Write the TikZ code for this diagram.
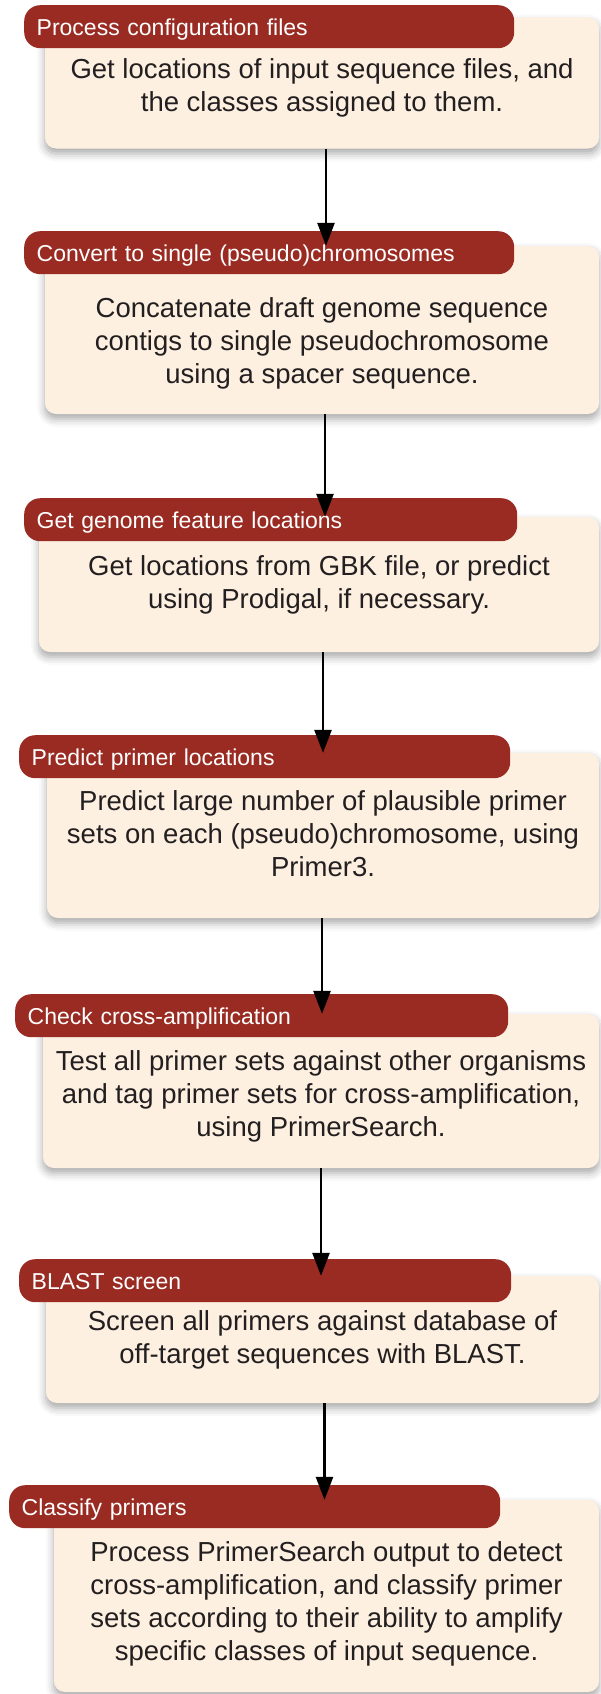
\documentclass[tikz,border=0pt]{standalone}
\usepackage{fontspec}
\setmainfont{Liberation Sans}
\usetikzlibrary{arrows.meta, shadows.blur}
\definecolor{stepred}{RGB}{153,43,34}
\definecolor{stepcream}{RGB}{253,240,225}
\definecolor{steptext}{RGB}{35,31,32}

\tikzset{
  stepbody/.style={rectangle, rounded corners=11pt, fill=stepcream, inner sep=0pt,
    blur shadow={shadow xshift=0pt, shadow yshift=-5pt, shadow blur radius=8pt, shadow opacity=35}},
  stepnote/.style={align=center, inner sep=0pt, text=steptext, font=\fontsize{27.5}{33}\selectfont},
  steptitle/.style={rectangle, rounded corners=16pt, fill=stepred, anchor=north west,
    inner xsep=12.5pt, inner ysep=0pt, minimum height=43pt, text height=18pt, text depth=0pt,
    text=white, align=left, font=\fontsize{23}{27}\selectfont},
  flow/.style={-{Triangle[length=23pt,width=17pt]}, line width=2.7pt, black},
}

\begin{document}
\begin{tikzpicture}[x=1pt, y=1pt]
  \useasboundingbox (0,0) rectangle (601,-1694);

  % step bodies
  \node[stepbody, minimum width=554pt, minimum height=131pt] (b1) at (322,-83) {};
  \node[stepbody, minimum width=554pt, minimum height=168pt] (b2) at (322,-330) {};
  \node[stepbody, minimum width=560pt, minimum height=135pt] (b3) at (319,-584.5) {};
  \node[stepbody, minimum width=552pt, minimum height=165pt] (b4) at (323,-835.5) {};
  \node[stepbody, minimum width=556pt, minimum height=154pt] (b5) at (321,-1091) {};
  \node[stepbody, minimum width=553pt, minimum height=127pt] (b6) at (322.5,-1339.5) {};
  \node[stepbody, minimum width=545pt, minimum height=192pt] (b7) at (326.5,-1596) {};

  % step descriptions
  \node[stepnote] (s1) at ([yshift=-5pt]b1.center)
    {Get locations of input sequence files, and\\the classes assigned to them.};
  \node[stepnote] (s2) at ([yshift=-13pt]b2.center)
    {Concatenate draft genome sequence\\contigs to single pseudochromosome\\using a spacer sequence.};
  \node[stepnote] (s3) at (b3.center)
    {Get locations from GBK file, or predict\\using Prodigal, if necessary.};
  \node[stepnote] (s4) at ([yshift=2pt]b4.center)
    {Predict large number of plausible primer\\sets on each (pseudo)chromosome, using\\Primer3.};
  \node[stepnote] (s5) at ([yshift=-5pt]b5.center)
    {Test all primer sets against other organisms\\and tag primer sets for cross-amplification,\\using PrimerSearch.};
  \node[stepnote] (s6) at (b6.center)
    {Screen all primers against database of\\off-target sequences with BLAST.};
  \node[stepnote] (s7) at ([yshift=-8pt]b7.center)
    {Process PrimerSearch output to detect\\cross-amplification, and classify primer\\sets according to their ability to amplify\\specific classes of input sequence.};

  % title bars
  \node[steptitle, text width=465pt] (t1) at (24,-5) {Process configuration files};
  \node[steptitle, text width=465pt] (t2) at (24,-231) {Convert to single (pseudo)chromosomes};
  \node[steptitle, text width=468pt] (t3) at (24,-498) {Get genome feature locations};
  \node[steptitle, text width=466pt] (t4) at (19,-735) {Predict primer locations};
  \node[steptitle, text width=468pt] (t5) at (15,-994) {Check cross-amplification};
  \node[steptitle, text width=467pt] (t6) at (19,-1259) {BLAST screen};
  \node[steptitle, text width=466pt] (t7) at (9,-1485) {Classify primers};

  % connectors
  \draw[flow] ([xshift=4pt]b1.south) -- ([xshift=4pt]b1.south |- b2.north);
  \draw[flow] ([xshift=3pt]b2.south) -- ([xshift=3pt]b2.south |- b3.north);
  \draw[flow] ([xshift=4pt]b3.south) -- ([xshift=4pt]b3.south |- b4.north);
  \draw[flow] ([xshift=-1pt]b4.south) -- ([xshift=-1pt]b4.south |- b5.north);
  \draw[flow] (b5.south) -- (b5.south |- b6.north);
  \draw[flow] ([xshift=2pt]b6.south) -- ([xshift=2pt]b6.south |- b7.north);
\end{tikzpicture}
\end{document}
